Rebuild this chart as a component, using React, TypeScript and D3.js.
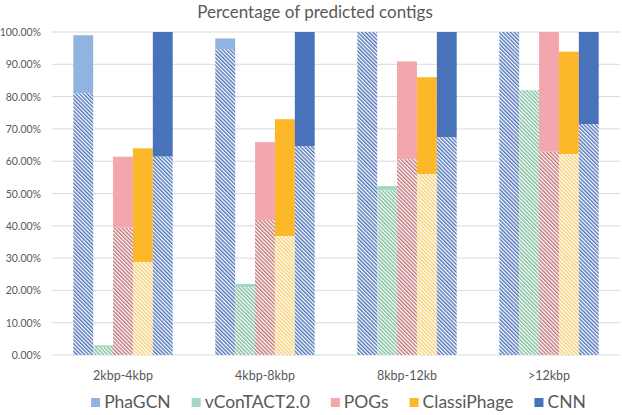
import React, { useRef, useEffect } from 'react';
import * as d3 from 'd3';

// categories and series
const categories = ['2kbp-4kbp', '4kbp-8kbp', '8kbp-12kb', '>12kbp'];
const seriesNames = ['PhaGCN', 'vConTACT2.0', 'POGs', 'ClassiPhage', 'CNN'];

// hatched (lower) part, in percent
const phagcnHatched = [81.0, 94.7, 100, 100];
const vcontactHatched = [2.5, 21.0, 51.0, 82.0];
const pogsHatched = [39.4, 41.8, 60.6, 62.9];
const classiHatched = [28.8, 36.8, 56.0, 62.2];
const cnnHatched = [61.4, 64.7, 67.4, 71.5];

// full bar height (hatched + solid), in percent
const phagcnTotal = [99.0, 98.0, 100, 100];
const vcontactTotal = [3.0, 22.0, 52.3, 82.0];
const pogsTotal = [61.4, 65.9, 90.9, 100];
const classiTotal = [64.0, 73.0, 86.0, 93.9];
const cnnTotal = [100, 100, 100, 100];

const yTicks = [0, 10, 20, 30, 40, 50, 60, 70, 80, 90, 100];

const hatchedValues = [phagcnHatched, vcontactHatched, pogsHatched, classiHatched, cnnHatched];
const totalValues = [phagcnTotal, vcontactTotal, pogsTotal, classiTotal, cnnTotal];

const solidColors = ['#8FB4E0', '#A3D8C2', '#F4A6AE', '#FDB82A', '#4872BA'];
const hatchColors = ['#4E74BA', '#7DBE9C', '#C27478', '#F6CF72', '#4E74BA'];

const FONT = 'Lato, "Open Sans", sans-serif';
const TEXT = '#595959';

const App = () => {
  const ref = useRef<SVGSVGElement>(null);

  useEffect(() => {
    const svg = d3.select(ref.current);
    svg.selectAll('*').remove();

    const left = 52, right = 620, top = 32, bottom = 355;

    const x = d3.scaleBand().domain(categories).range([left, right]).paddingInner(0.3).paddingOuter(0.15);
    const xs = d3.scaleBand().domain(seriesNames).range([0, x.bandwidth()]);
    const y = d3.scaleLinear().domain([0, 100]).range([bottom, top]);

    // hatch patterns
    const defs = svg.append('defs');
    seriesNames.forEach((s, i) => {
      const p = defs.append('pattern')
        .attr('id', `hatch${i}`)
        .attr('patternUnits', 'userSpaceOnUse')
        .attr('width', 2.7)
        .attr('height', 2.7)
        .attr('patternTransform', 'rotate(-45)');
      p.append('rect').attr('width', 2.7).attr('height', 2.7).attr('fill', '#fff');
      p.append('rect').attr('width', 1.4).attr('height', 2.7).attr('fill', hatchColors[i]);
    });

    // title
    svg.append('text')
      .attr('x', 315)
      .attr('y', 18)
      .attr('text-anchor', 'middle')
      .style('font-family', FONT)
      .style('font-size', '17px')
      .attr('fill', TEXT)
      .text('Percentage of predicted contigs');

    // gridlines
    svg.append('g')
      .selectAll('line')
      .data(yTicks)
      .join('line')
      .attr('x1', left)
      .attr('x2', right)
      .attr('y1', d => y(d))
      .attr('y2', d => y(d))
      .attr('stroke', '#D9D9D9')
      .attr('stroke-width', 1);

    // y tick labels
    svg.append('g')
      .selectAll('text')
      .data(yTicks)
      .join('text')
      .attr('x', 41)
      .attr('y', d => y(d) + 4)
      .attr('text-anchor', 'end')
      .style('font-family', FONT)
      .style('font-size', '10.5px')
      .attr('fill', TEXT)
      .text(d => d3.format('.2f')(d) + '%');

    // bars
    seriesNames.forEach((s, i) => {
      const g = svg.append('g');
      // solid top
      g.selectAll('rect.solid')
        .data(categories)
        .join('rect')
        .attr('class', 'solid')
        .attr('x', c => x(c)! + xs(s)!)
        .attr('width', xs.bandwidth())
        .attr('y', (c, j) => y(totalValues[i][j]))
        .attr('height', (c, j) => y(hatchedValues[i][j]) - y(totalValues[i][j]))
        .attr('fill', solidColors[i]);
      // hatched bottom
      g.selectAll('rect.hatch')
        .data(categories)
        .join('rect')
        .attr('class', 'hatch')
        .attr('x', c => x(c)! + xs(s)!)
        .attr('width', xs.bandwidth())
        .attr('y', (c, j) => y(hatchedValues[i][j]))
        .attr('height', (c, j) => y(0) - y(hatchedValues[i][j]))
        .attr('fill', `url(#hatch${i})`);
    });

    // category labels
    svg.append('g')
      .selectAll('text')
      .data(categories)
      .join('text')
      .attr('x', c => x(c)! + x.bandwidth() / 2)
      .attr('y', 380)
      .attr('text-anchor', 'middle')
      .style('font-family', FONT)
      .style('font-size', '12.5px')
      .attr('fill', TEXT)
      .text(c => c);

    // legend
    const legend = svg.append('g');
    const items = legend.selectAll('g')
      .data(seriesNames)
      .join('g');
    items.append('rect')
      .attr('width', 9)
      .attr('height', 9)
      .attr('y', -10)
      .attr('fill', (d, i) => solidColors[i]);
    items.append('text')
      .attr('x', 13)
      .style('font-family', FONT)
      .style('font-size', '17.5px')
      .attr('fill', TEXT)
      .text(d => d);

    const gap = 21;
    const widths: number[] = [];
    items.each(function () {
      widths.push((this as SVGGElement).getBBox().width);
    });
    const total = d3.sum(widths) + gap * (widths.length - 1);
    let cx = 338.5 - total / 2;
    items.attr('transform', (d, i) => {
      const t = `translate(${cx},${408})`;
      cx += widths[i] + gap;
      return t;
    });
  }, []);

  return (
    <svg
      ref={ref}
      width={622}
      height={415}
      style={{ position: 'absolute', left: 0, top: 0, background: '#fff' }}
    ></svg>
  );
};

export default App;
